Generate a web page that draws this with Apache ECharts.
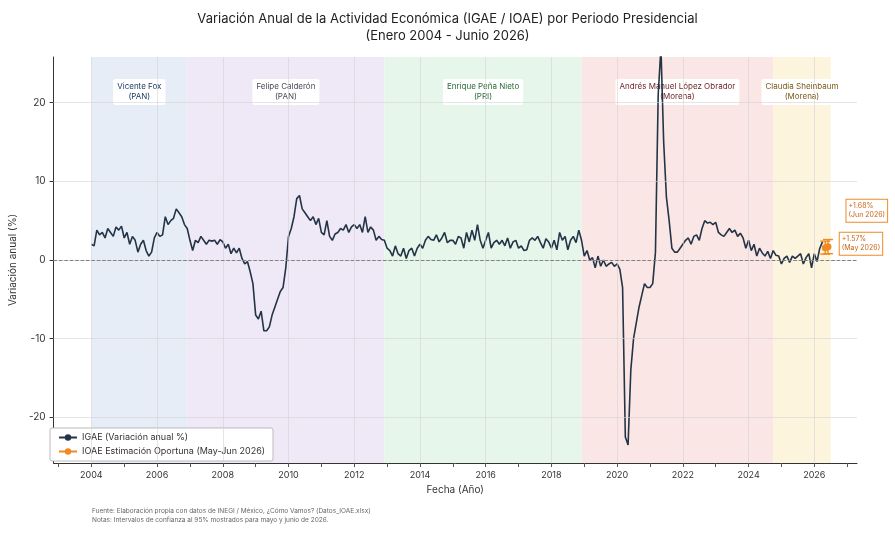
<!DOCTYPE html>
<html><head><meta charset="utf-8">
<script src="https://cdn.jsdelivr.net/npm/echarts@6/dist/echarts.min.js"></script>
<style>html,body{margin:0;padding:0;background:#fff}#c{width:895px;height:537px}</style>
</head><body><div id="c"></div>
<script>
// IGAE variacion anual (%), mensual desde ene 2004
var igae = [
  2, 1.8, 3.8, 3.2, 3.5, 2.8, 4, 3.5, 3, 4.2, 3.8, 4.3,
  2.8, 3.5, 2, 3, 2.5, 1, 2, 2.5, 1.2, 0.5, 1, 2.8,
  3.5, 3, 3.2, 5.5, 4.5, 5, 5.3, 6.5, 6, 5.5, 4.5, 4,
  2.5, 1.2, 2.5, 2.2, 3, 2.5, 2, 2.5, 2.4, 2.5, 2, 2.6,
  2.3, 1.5, 2, 0.8, 1.5, 0.9, 1.5, 0.2, -0.5, -0.2, -1.5, -3,
  -7, -7.5, -6.5, -9, -9, -8.5, -7, -6, -5, -4, -3.5, -1,
  3, 4, 5.5, 7.8, 8.2, 6.5, 6, 5.5, 5, 5.5, 4.5, 5.3,
  3.5, 3.2, 5, 3, 2.5, 3.3, 3.5, 4, 3.8, 4.5, 3.5, 4.2,
  4.5, 4, 4.5, 3.5, 5.5, 3.5, 4.2, 3.8, 2.5, 3, 2.6, 2.5,
  1.5, 1.2, 0.5, 1.8, 0.8, 0.5, 1.5, 0.2, 1.2, 1.5, 0.5, 1.5,
  2, 1.5, 2.5, 3, 2.6, 2.5, 3.2, 2.3, 2.8, 3.5, 2.2, 2.5,
  2.5, 2, 3, 2.8, 1.5, 3.5, 2.3, 3.8, 2.5, 4.5, 2.5, 1.5,
  2.5, 3.5, 1.5, 2.2, 2.5, 2, 2.5, 1.8, 2.8, 1.5, 2.3, 2.5,
  1.5, 1.8, 1.2, 1.3, 2.5, 2.8, 2.5, 3, 2.2, 1.5, 2.7, 2.3,
  1.5, 2.5, 1.3, 3.5, 2.5, 3, 1.3, 2.5, 3, 2.2, 3.8, 2.5,
  0.5, 1.2, 0, 0.3, -1, 0.5, -0.8, 0, -0.8, -0.5, -0.3, -0.8,
  -0.5, -1.2, -3.5, -22.5, -23.5, -14, -10, -8, -6, -4.5, -3, -3.5,
  -3.5, -3, 1, 21, 27, 15, 8, 5, 1.5, 1, 1, 1.5,
  2, 2.5, 2.8, 2, 3, 3.2, 2.5, 4, 5, 4.7, 4.8, 4.5,
  4.8, 3.5, 3.2, 3, 3.5, 4, 3.5, 3.8, 3, 3.4, 2.8, 1.5,
  2.5, 1.2, 2, 0.5, 1.5, 0.9, 0.5, 1.1, 0.2, 1.2, 0.6, 0.5,
  -0.5, 0.2, 0.5, -0.3, 0.5, 0.2, 0.5, 0.8, -0.5, 0.3, 0.8, -1,
  0.8, -0.2, 1.5, 2.3
];
var ioaeFechas = [2026 + 4/12, 2026 + 5/12];
var ioaeValores = [1.57, 1.68];
var ioaeInf = [0.75, 0.8];
var ioaeSup = [2.4, 2.6];
var ioaeEtiquetas = ['+1.57%\n(May 2026)', '+1.68%\n(Jun 2026)'];
var periodos = [
  {nombre: 'Vicente Fox\n(PAN)', ini: 2004, fin: 2006.92, fondo: '#e6edf6', texto: '#1f3a63'},
  {nombre: 'Felipe Calderón\n(PAN)', ini: 2006.92, fin: 2012.92, fondo: '#efe8f6', texto: '#4a4a5a'},
  {nombre: 'Enrique Peña Nieto\n(PRI)', ini: 2012.92, fin: 2018.92, fondo: '#e6f6ea', texto: '#2a6b3a'},
  {nombre: 'Andrés Manuel López Obrador\n(Morena)', ini: 2018.92, fin: 2024.75, fondo: '#fbe6e6', texto: '#6b1f24'},
  {nombre: 'Claudia Sheinbaum\n(Morena)', ini: 2024.75, fin: 2026.5, fondo: '#fcf4dc', texto: '#7a5a1a'}
];
var xTicks = [], xLabels = [2004, 2006, 2008, 2010, 2012, 2014, 2016, 2018, 2020, 2022, 2024, 2026];
for (var a = 2003; a <= 2027; a++) xTicks.push(a);
var yTicks = [-20, -10, 0, 10, 20];

var serie = igae.map(function (v, i) { return [2004 + i / 12, v]; });
var font = 'Inter';

var option = {
  textStyle: {fontFamily: font},
  title: {
    text: 'Variación Anual de la Actividad Económica (IGAE / IOAE) por Periodo Presidencial\n(Enero 2004 - Junio 2026)',
    left: 'center', top: 6,
    textStyle: {fontSize: 13, fontWeight: 'normal', color: '#222', lineHeight: 17, fontFamily: font}
  },
  grid: {left: 41, right: 38, top: 57, bottom: 74},
  legend: {
    left: 50, top: 428, orient: 'vertical', itemGap: 5, itemWidth: 18, itemHeight: 8,
    backgroundColor: '#fff', borderColor: '#bbb', borderWidth: 1, borderRadius: 2, padding: [5, 8],
    textStyle: {fontSize: 9, color: '#333'},
    data: ['IGAE (Variación anual %)', 'IOAE Estimación Oportuna (May-Jun 2026)']
  },
  xAxis: {
    type: 'value', min: 2002.85, max: 2027.3,
    name: 'Fecha (Año)', nameLocation: 'middle', nameGap: 22,
    nameTextStyle: {fontSize: 10, color: '#333'},
    axisLine: {show: true, onZero: false, lineStyle: {color: '#333'}},
    axisTick: {show: true, customValues: xTicks, length: 4, lineStyle: {color: '#555'}},
    axisLabel: {customValues: xLabels, fontSize: 9, color: '#333', formatter: function (v) { return String(v); }},
    splitLine: {show: false}
  },
  yAxis: {
    type: 'value', min: -25.8, max: 25.8,
    name: 'Variación anual (%)', nameLocation: 'middle', nameGap: 28,
    nameTextStyle: {fontSize: 10, color: '#333'},
    axisLine: {show: true, lineStyle: {color: '#333'}},
    axisTick: {show: true, customValues: yTicks, length: 4},
    axisLabel: {customValues: yTicks, fontSize: 10, color: '#333'},
    splitLine: {show: false}
  },
  graphic: [{
    type: 'text', left: 92, top: 507,
    style: {text: 'Fuente: Elaboración propia con datos de INEGI / México, ¿Cómo Vamos? (Datos_IOAE.xlsx)\nNotas: Intervalos de confianza al 95% mostrados para mayo y junio de 2026.',
      fontSize: 6.5, lineHeight: 9, fill: '#666', fontFamily: font}
  }],
  series: [
    {
      type: 'line', silent: true, data: [], z: 1,
      markArea: {
        silent: true,
        data: periodos.map(function (p) {
          return [{xAxis: p.ini, itemStyle: {color: p.fondo},
            label: {show: true, position: 'insideTop', distance: 22, formatter: p.nombre,
              color: p.texto, fontSize: 8, lineHeight: 10, backgroundColor: '#fff', padding: [3, 4], borderRadius: 2}},
            {xAxis: p.fin}];
        })
      },
      markLine: {
        silent: true, symbol: 'none', label: {show: false},
        lineStyle: {color: '#d4d4d4', width: 0.6, type: 'solid'},
        data: xLabels.map(function (x) { return {xAxis: x}; })
          .concat(yTicks.map(function (y) { return {yAxis: y}; }))
          .concat([{yAxis: 0, lineStyle: {color: '#777', type: 'dashed', width: 0.9}}])
      }
    },
    {
      name: 'IGAE (Variación anual %)', type: 'line', data: serie, symbol: 'none', z: 3,
      lineStyle: {color: '#243447', width: 1.6}, itemStyle: {color: '#243447'}
    },
    {
      type: 'custom', z: 4, silent: true,
      data: ioaeFechas.map(function (x, i) { return [x, ioaeInf[i], ioaeSup[i]]; }),
      renderItem: function (params, api) {
        var lo = api.coord([api.value(0), api.value(1)]);
        var hi = api.coord([api.value(0), api.value(2)]);
        var st = {stroke: '#f08a24', lineWidth: 1.4};
        return {type: 'group', children: [
          {type: 'line', shape: {x1: lo[0], y1: lo[1], x2: hi[0], y2: hi[1]}, style: st},
          {type: 'line', shape: {x1: lo[0] - 5, y1: lo[1], x2: lo[0] + 5, y2: lo[1]}, style: st},
          {type: 'line', shape: {x1: hi[0] - 5, y1: hi[1], x2: hi[0] + 5, y2: hi[1]}, style: st}
        ]};
      }
    },
    {
      name: 'IOAE Estimación Oportuna (May-Jun 2026)', type: 'line', z: 5,
      data: ioaeFechas.map(function (x, i) {
        return {value: [x, ioaeValores[i]], label: {show: true, formatter: ioaeEtiquetas[i],
          position: 'right', offset: i === 0 ? [6, -4] : [10, -36],
          fontSize: 7, lineHeight: 9, color: '#c8651a', backgroundColor: '#fff',
          borderColor: '#f08a24', borderWidth: 1, padding: [2, 2]}};
      }),
      symbol: 'circle', symbolSize: 7,
      lineStyle: {color: '#f08a24', width: 1.6}, itemStyle: {color: '#f08a24'}
    }
  ]
};
var chart = echarts.init(document.getElementById('c'));
chart.setOption(option);
</script></body></html>
